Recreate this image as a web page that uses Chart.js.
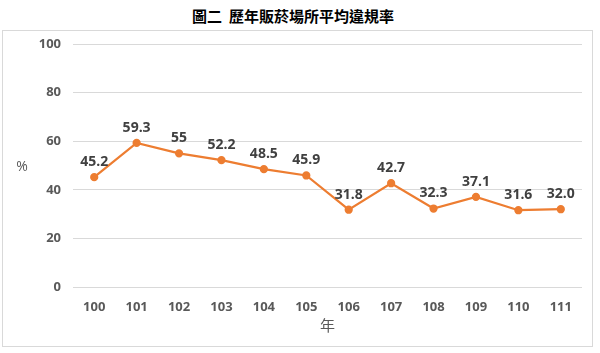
<!DOCTYPE html>
<html>
<head>
<meta charset="utf-8">
<script src="https://cdn.jsdelivr.net/npm/chart.js@4"></script>
<style>
  body { margin: 0; background: #fff; width: 600px; height: 353px; position: relative; overflow: hidden; }
  #title { position: absolute; left: 0; width: 586px; top: 5px; text-align: center;
    font: bold 15px "Noto Sans CJK TC", sans-serif; color: #000; }
  #box { position: absolute; left: 2px; top: 30px; width: 589px; height: 315px; border: 1px solid #d9d9d9; }
</style>
</head>
<body>
<div id="title">圖二&nbsp; 歷年販菸場所平均違規率</div>
<div id="box"><canvas id="myChart" width="589" height="315"></canvas></div>
<script>
const years = ['100', '101', '102', '103', '104', '105', '106', '107', '108', '109', '110', '111']
const rates = [45.2, 59.3, 55, 52.2, 48.5, 45.9, 31.8, 42.7, 32.3, 37.1, 31.6, 32.0]
const rateLabels = ['45.2', '59.3', '55', '52.2', '48.5', '45.9', '31.8', '42.7', '32.3', '37.1', '31.6', '32.0']

const tickFont = { family: '"Open Sans", "Noto Sans", sans-serif', size: 13, weight: 'bold' }

// values above the points + the unrotated "%" axis title
const labelPlugin = {
    id: 'pointLabels',
    afterDatasetsDraw(chart) {
        const ctx = chart.ctx
        const meta = chart.getDatasetMeta(0)
        ctx.save()
        ctx.font = 'bold 14px "Open Sans", "Noto Sans", sans-serif'
        ctx.fillStyle = '#404040'
        ctx.textAlign = 'center'
        ctx.textBaseline = 'middle'
        meta.data.forEach((pt, i) => {
            ctx.fillText(rateLabels[i], pt.x, pt.y - 15)
        })
        const yScale = chart.scales.y
        ctx.font = '14px "Open Sans", "Noto Sans", sans-serif'
        ctx.fillStyle = '#595959'
        ctx.fillText('%', 19, (yScale.top + yScale.bottom) / 2 + 2)
        ctx.restore()
    }
}

const config = {
    type: 'line',
    data: {
        labels: years,
        datasets: [{
            data: rates,
            borderColor: '#ED7D31',
            backgroundColor: '#ED7D31',
            borderWidth: 2.25,
            pointRadius: 3,
            pointBackgroundColor: '#ED7D31',
            tension: 0
        }]
    },
    options: {
        responsive: false,
        animation: false,
        layout: { padding: { left: 0, right: 10, top: 13, bottom: 0 } },
        plugins: {
            legend: { display: false },
            tooltip: { enabled: false }
        },
        scales: {
            x: {
                offset: true,
                grid: { display: false },
                border: { display: false },
                ticks: { color: '#595959', font: tickFont, padding: 4 },
                title: {
                    display: true,
                    text: '年',
                    color: '#595959',
                    font: { family: '"Noto Sans CJK TC", sans-serif', size: 15 },
                    padding: { top: 0, bottom: 12 }
                },
                afterFit: (s) => { s.height = 59 }
            },
            y: {
                min: 0,
                max: 100,
                ticks: { stepSize: 20, color: '#595959', font: tickFont, padding: 12 },
                grid: { color: '#d9d9d9', drawTicks: false },
                border: { display: false },
                afterFit: (s) => {
                    s.width = 70
                    s.paddingTop = 0
                    s.paddingBottom = 0
                }
            }
        }
    },
    plugins: [labelPlugin]
}

const myChart = new Chart(document.getElementById('myChart'), config)
</script>
</body>
</html>
